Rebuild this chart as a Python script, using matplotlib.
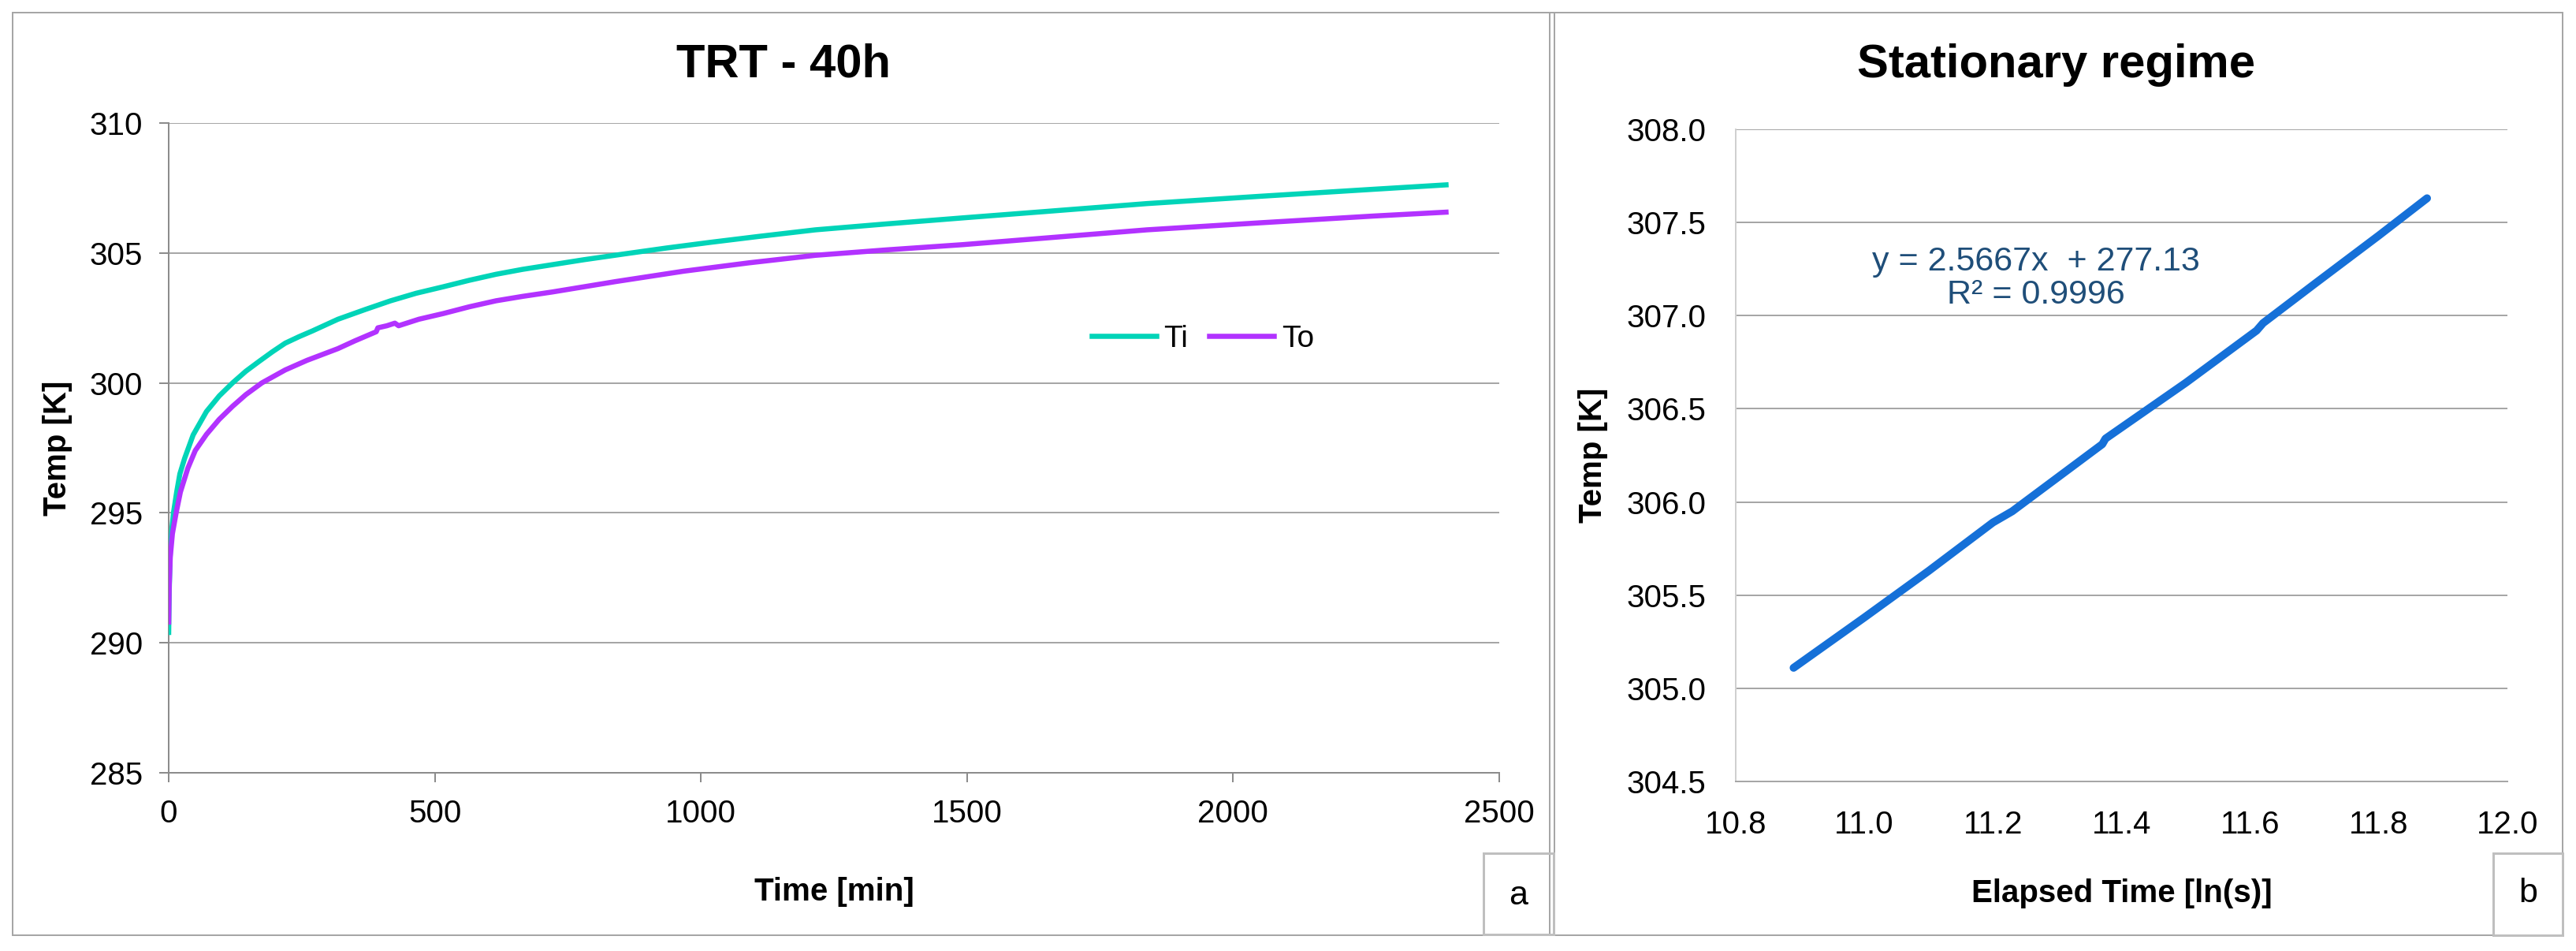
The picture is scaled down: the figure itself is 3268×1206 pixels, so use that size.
import matplotlib
matplotlib.use("Agg")
import matplotlib.pyplot as plt
from matplotlib.patches import Rectangle
from matplotlib.ticker import MultipleLocator, FormatStrFormatter

# ---- data ----
time_ti = [0, 1, 3, 6, 9, 15, 21, 30, 46, 71, 95, 120, 145, 170, 195, 219, 245, 270,
           318, 370, 417, 465, 516, 565, 615, 665, 721, 780, 855, 935, 1018, 1110,
           1215, 1350, 1492, 1650, 1838, 2050, 2263, 2400]
temp_ti = [290.4, 292.0, 293.6, 294.4, 295.0, 295.8, 296.5, 297.1, 298.0, 298.9,
           299.5, 300.0, 300.45, 300.83, 301.2, 301.53, 301.78, 302.0, 302.45, 302.83,
           303.16, 303.45, 303.7, 303.95, 304.18, 304.37, 304.55, 304.74, 304.96,
           305.19, 305.41, 305.64, 305.89, 306.12, 306.35, 306.6, 306.9, 307.18,
           307.45, 307.62]

time_to = [0, 1, 3, 7, 14, 22, 36, 50, 71, 95, 120, 145, 175, 219, 260, 318, 350,
           390, 393, 410, 425, 432, 470, 516, 565, 615, 665, 721, 840, 968, 1090,
           1215, 1350, 1492, 1650, 1838, 2050, 2263, 2400]
temp_to = [290.8, 292.2, 293.3, 294.2, 295.0, 295.8, 296.72, 297.4, 298.02, 298.6,
           299.1, 299.55, 300.0, 300.5, 300.87, 301.32, 301.62, 301.97, 302.12, 302.2,
           302.3, 302.2, 302.45, 302.67, 302.93, 303.16, 303.33, 303.5, 303.9, 304.3,
           304.62, 304.91, 305.12, 305.32, 305.58, 305.89, 306.16, 306.42, 306.57]

ln_t = [10.89, 11.0, 11.1, 11.2, 11.23, 11.37, 11.375, 11.5, 11.61, 11.62, 11.7,
        11.8, 11.875]
temp_st = [305.11, 305.38, 305.63, 305.89, 305.95, 306.31, 306.34, 306.64, 306.92,
           306.96, 307.17, 307.43, 307.63]

fit_text = "y = 2.5667x  + 277.13\nR\u00b2 = 0.9996"

# ---- figure ----
W, H = 3268, 1206
fig = plt.figure(figsize=(W / 100, H / 100), dpi=100)
narrow = ['Liberation Sans Narrow', 'Liberation Sans', 'DejaVu Sans']
plain = ['Liberation Sans', 'DejaVu Sans']
plt.rcParams['font.family'] = narrow

GRID = '#A6A6A6'
SPINE = '#8C8C8C'
PT = 0.72  # points per pixel at dpi 100


def box(x0, y0, x1, y1, color=GRID, lw=2):
    fig.patches.append(Rectangle((x0 / W, 1 - y1 / H), (x1 - x0) / W, (y1 - y0) / H,
                                 transform=fig.transFigure, fill=False,
                                 ec=color, lw=lw * PT))


def axes_px(x0, y0, x1, y1):
    return fig.add_axes([x0 / W, 1 - y1 / H, (x1 - x0) / W, (y1 - y0) / H])


# panel frames
box(16, 16, 1972, 1186)
box(1966, 16, 3251, 1186)
box(1882, 1082, 1971, 1185, color='#BFBFBF', lw=3)
box(3163, 1082, 3251, 1186, color='#BFBFBF', lw=3)
fig.text(1926 / W, 1 - 1136 / H, "a", fontsize=31, ha='center', va='center', family=plain)
fig.text(3207 / W, 1 - 1133 / H, "b", fontsize=31, ha='center', va='center', family=plain)

# ---- left: TRT ----
ax = axes_px(214, 156, 1902, 980)
ax.plot(time_ti, temp_ti, color='#00D4B8', lw=6.5 * PT, label='Ti', zorder=3,
        solid_joinstyle='round')
ax.plot(time_to, temp_to, color='#B232FF', lw=6.5 * PT, label='To', zorder=3,
        solid_joinstyle='round')
ax.set_xlim(0, 2500)
ax.set_ylim(285, 310)
ax.xaxis.set_major_locator(MultipleLocator(500))
ax.yaxis.set_major_locator(MultipleLocator(5))
ax.grid(axis='y', color=GRID, lw=2 * PT, zorder=0)
for s in ['top', 'right']:
    ax.spines[s].set_visible(False)
for s in ['left', 'bottom']:
    ax.spines[s].set_color(SPINE)
    ax.spines[s].set_linewidth(2 * PT)
ax.tick_params(direction='out', length=12 * PT, width=2 * PT, color=SPINE,
               labelsize=29, pad=15)
ax.set_xlabel("Time [min]", fontsize=29, fontweight='bold')
ax.xaxis.set_label_coords(0.5, -(1131 - 980) / 824)
ax.xaxis.label.set_va('center')
ax.set_ylabel("Temp [K]", fontsize=29, fontweight='bold')
ax.yaxis.set_label_coords(-(214 - 73) / 1688, 0.5)
ax.yaxis.label.set_va('center')
fig.text(994 / W, 1 - 82 / H, "TRT - 40h", fontsize=43, fontweight='bold',
         ha='center', va='center')
ax.legend(loc='center', bbox_to_anchor=((1526 - 214) / 1688, 1 - (430 - 156) / 824),
          ncol=2, frameon=False, prop={'family': plain, 'size': 28},
          handlelength=2.1, handletextpad=0.25, columnspacing=0.7, borderpad=0)

# ---- right: stationary regime ----
bx = axes_px(2202, 164, 3181, 991)
bx.plot(ln_t, temp_st, color='#1570D8', lw=10 * PT, solid_capstyle='round',
        solid_joinstyle='round', zorder=3)
bx.set_xlim(10.8, 12.0)
bx.set_ylim(304.5, 308.0)
bx.xaxis.set_major_locator(MultipleLocator(0.2))
bx.yaxis.set_major_locator(MultipleLocator(0.5))
bx.xaxis.set_major_formatter(FormatStrFormatter('%.1f'))
bx.yaxis.set_major_formatter(FormatStrFormatter('%.1f'))
bx.grid(axis='y', color=GRID, lw=2 * PT, zorder=0)
for s in ['top', 'right']:
    bx.spines[s].set_visible(False)
bx.spines['left'].set_color('#D0D0D0')
bx.spines['left'].set_linewidth(2 * PT)
bx.spines['bottom'].set_color(GRID)
bx.spines['bottom'].set_linewidth(2 * PT)
bx.tick_params(axis='y', length=0, labelsize=29, pad=27)
bx.tick_params(axis='x', length=0, labelsize=29, pad=26)
bx.set_xlabel("Elapsed Time [ln(s)]", fontsize=29, fontweight='bold')
bx.xaxis.set_label_coords(0.5, -(1133 - 991) / 827)
bx.xaxis.label.set_va('center')
bx.set_ylabel("Temp [K]", fontsize=29, fontweight='bold')
bx.yaxis.set_label_coords(-(2202 - 2021) / 979, 0.5)
bx.yaxis.label.set_va('center')
fig.text(2608 / W, 1 - 82 / H, "Stationary regime", fontsize=43, fontweight='bold',
         ha='center', va='center')
bx.text((2583 - 2202) / 979, 1 - (353 - 164) / 827, fit_text, transform=bx.transAxes,
        ha='center', va='center', fontsize=31, color='#1F4E79', family=plain,
        linespacing=1.05)

fig.savefig("out.png", dpi=100)
